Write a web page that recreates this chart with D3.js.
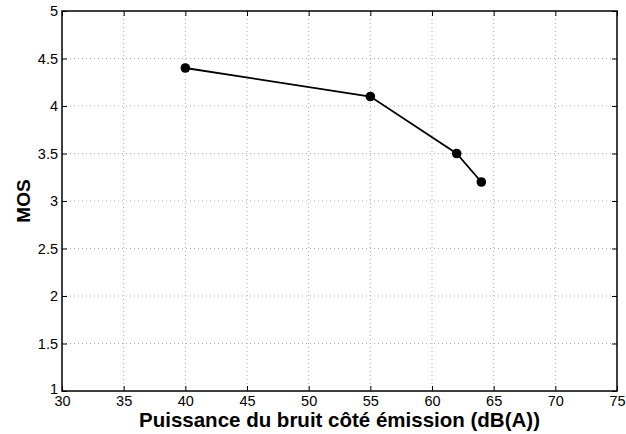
<!DOCTYPE html>
<html>
<head>
<meta charset="utf-8">
<script src="https://cdn.jsdelivr.net/npm/d3@7"></script>
<style>
  body { margin: 0; background: #fff; }
  svg { display: block; font-family: "Liberation Sans", Arial, sans-serif; }
  .grid line { stroke: #b0b0b0; stroke-dasharray: 1,3; }
</style>
</head>
<body>
<svg width="626" height="434"></svg>
<script>
// chart values
var noisePower = [40, 55, 62, 64];
var mosValues = [4.4, 4.1, 3.5, 3.2];
var xTicks = [30, 35, 40, 45, 50, 55, 60, 65, 70, 75];
var yTicks = [1, 1.5, 2, 2.5, 3, 3.5, 4, 4.5, 5];

var svg = d3.select('svg');
var pLeft = 62, pRight = 617, pTop = 11, pBottom = 391;

var x = d3.scaleLinear().domain([30, 75]).range([pLeft, pRight]);
var y = d3.scaleLinear().domain([1, 5]).range([pBottom, pTop]);

// grid
var grid = svg.append('g').attr('class', 'grid');
grid.selectAll('.gx')
    .data(xTicks.slice(1, -1))
    .enter().append('line')
    .attr('x1', function(d) { return x(d); })
    .attr('x2', function(d) { return x(d); })
    .attr('y1', pTop).attr('y2', pBottom);
grid.selectAll('.gy')
    .data(yTicks.slice(1, -1))
    .enter().append('line')
    .attr('y1', function(d) { return y(d); })
    .attr('y2', function(d) { return y(d); })
    .attr('x1', pLeft).attr('x2', pRight);

// axes with inward ticks, MATLAB-style box
function styleAxis(g) {
    g.select('.domain').remove();
    g.selectAll('.tick line').attr('stroke', '#000');
    g.selectAll('text').attr('fill', '#000').style('font-size', '14.5px');
}

svg.append('g')
    .attr('transform', 'translate(0,' + pBottom + ')')
    .call(d3.axisBottom(x).tickValues(xTicks).tickSizeInner(-5).tickSizeOuter(0).tickPadding(5))
    .call(styleAxis);
svg.append('g')
    .attr('transform', 'translate(0,' + pTop + ')')
    .call(d3.axisTop(x).tickValues(xTicks).tickSizeInner(-5).tickSizeOuter(0).tickFormat(''))
    .call(styleAxis);
var yAxisG = svg.append('g')
    .attr('transform', 'translate(' + pLeft + ',0)')
    .call(d3.axisLeft(y).tickValues(yTicks).tickFormat(d3.format('~g')).tickSizeInner(-5).tickSizeOuter(0).tickPadding(4))
    .call(styleAxis);
// lowest label sits a touch higher, like the original
yAxisG.selectAll('.tick text').filter(function(d) { return d === 1; }).attr('dy', '0.15em');
svg.append('g')
    .attr('transform', 'translate(' + pRight + ',0)')
    .call(d3.axisRight(y).tickValues(yTicks).tickSizeInner(-5).tickSizeOuter(0).tickFormat(''))
    .call(styleAxis);

svg.append('rect')
    .attr('x', pLeft).attr('y', pTop)
    .attr('width', pRight - pLeft).attr('height', pBottom - pTop)
    .attr('fill', 'none').attr('stroke', '#000').attr('stroke-width', 1.5);

// series
var pts = noisePower.map(function(d, i) { return [d, mosValues[i]]; });
svg.append('path')
    .datum(pts)
    .attr('fill', 'none')
    .attr('stroke', '#000')
    .attr('stroke-width', 1.8)
    .attr('d', d3.line()
        .x(function(d) { return x(d[0]); })
        .y(function(d) { return y(d[1]); }));
svg.selectAll('.pt')
    .data(pts)
    .enter().append('circle')
    .attr('cx', function(d) { return x(d[0]); })
    .attr('cy', function(d) { return y(d[1]); })
    .attr('r', 4.8)
    .attr('fill', '#000');

// labels
svg.append('text')
    .attr('x', (pLeft + pRight) / 2)
    .attr('y', 427)
    .attr('text-anchor', 'middle')
    .style('font-size', '20.5px')
    .style('font-weight', 'bold')
    .text('Puissance du bruit côté émission (dB(A))');
svg.append('text')
    .attr('transform', 'translate(30,' + ((pTop + pBottom) / 2) + ') rotate(-90)')
    .attr('text-anchor', 'middle')
    .style('font-size', '19px')
    .style('font-weight', 'bold')
    .text('MOS');
</script>
</body>
</html>
